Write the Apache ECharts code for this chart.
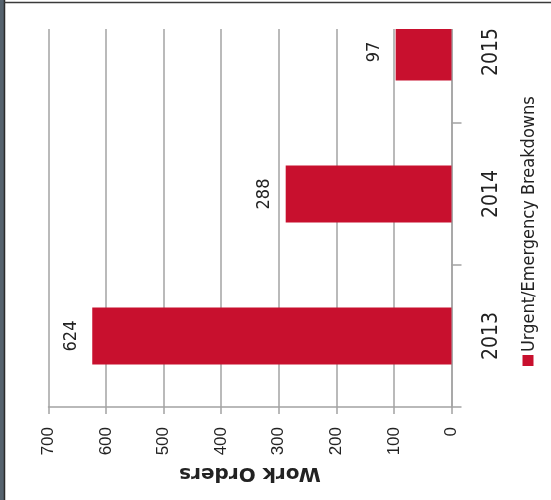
<!DOCTYPE html>
<html>
<head>
<meta charset="utf-8">
<script src="https://cdn.jsdelivr.net/npm/echarts@6/dist/echarts.min.js"></script>
<style>
html,body{margin:0;padding:0;background:#fff;}
#chart{width:551px;height:500px;}
</style>
</head>
<body>
<div id="chart"></div>
<script>
const categories = ['2013', '2014', '2015'];
const workOrders = [624, 288, 97];
const seriesName = 'Urgent/Emergency Breakdowns';
const axisTitle = 'Work Orders';

const NARROW = "'Liberation Sans Narrow', 'DejaVu Sans Condensed', 'Liberation Sans', sans-serif";
const GRAY = '#a3a3a3';
const RED = '#C8102E';

const chart = echarts.init(document.getElementById('chart'), null, {renderer: 'canvas'});
chart.setOption({
  animation: false,
  backgroundColor: '#ffffff',
  grid: {left: 48.5, right: 99.5, top: -19, bottom: 93, containLabel: false, outerBoundsMode: 'none'},
  xAxis: {
    type: 'value',
    min: 0, max: 700, interval: 100,
    inverse: true,
    position: 'bottom',
    name: axisTitle,
    nameLocation: 'middle',
    nameRotate: 180,
    nameGap: 54,
    nameTextStyle: {fontFamily: "'DejaVu Sans', sans-serif", fontWeight: 'bold', fontSize: 20, color: '#222'},
    axisLine: {show: true, lineStyle: {color: GRAY, width: 1.5}},
    axisTick: {show: true, length: 7, lineStyle: {color: GRAY, width: 1.5}},
    splitLine: {show: true, lineStyle: {color: GRAY, width: 1.5}},
    axisLabel: {rotate: 90, margin: 20, fontSize: 17, color: '#222', fontFamily: "'Liberation Sans', sans-serif"}
  },
  yAxis: {
    type: 'category',
    data: categories,
    position: 'right',
    axisLine: {show: true, lineStyle: {color: GRAY, width: 1.5}},
    axisTick: {show: true, length: 10, alignWithLabel: false, lineStyle: {color: GRAY, width: 1.5}},
    splitLine: {show: false},
    axisLabel: {rotate: 90, margin: 30, fontSize: 21, color: '#222', fontFamily: NARROW}
  },
  series: [{
    type: 'bar',
    name: seriesName,
    data: workOrders,
    barWidth: '40%',
    itemStyle: {color: RED},
    label: {
      show: true,
      position: 'left',
      distance: 12,
      rotate: 90,
      align: 'center',
      verticalAlign: 'bottom',
      fontSize: 18,
      color: '#222',
      fontFamily: NARROW
    }
  }],
  graphic: [
    {type: 'rect', shape: {x: 4, y: 0, width: 547, height: 29}, style: {fill: '#ffffff'}, z: 100},
    {type: 'rect', shape: {x: 0, y: 0, width: 4, height: 500}, style: {fill: '#55626d'}, z: 101},
    {type: 'line', shape: {x1: 4.5, y1: 0, x2: 4.5, y2: 500}, style: {stroke: '#2b2b2b', lineWidth: 1.5}, z: 101},
    {type: 'line', shape: {x1: 4, y1: 2.5, x2: 551, y2: 2.5}, style: {stroke: '#3a3a3a', lineWidth: 1.5}, z: 101},
    {
      type: 'group', x: 528, y: 366, rotation: Math.PI / 2, z: 101,
      children: [
        {type: 'rect', shape: {x: 0, y: -5.5, width: 11, height: 11}, style: {fill: RED}},
        {type: 'text', x: 14, y: 1.5, style: {text: seriesName, fontSize: 18, fontFamily: NARROW, fill: '#222', verticalAlign: 'middle', align: 'left'}}
      ]
    }
  ]
});
</script>
</body>
</html>
